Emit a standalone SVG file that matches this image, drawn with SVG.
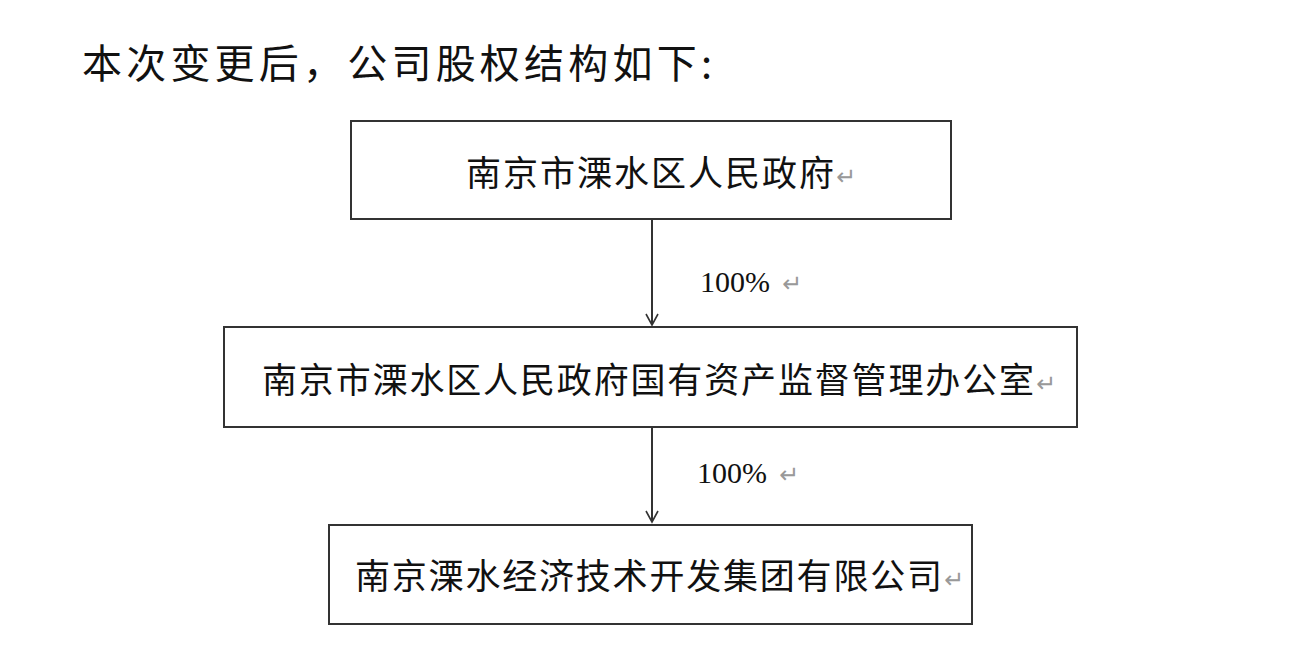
<svg xmlns="http://www.w3.org/2000/svg" width="1315" height="671" viewBox="0 0 1315 671">
<defs>
<marker id="ah" markerWidth="14" markerHeight="14" refX="12" refY="7" orient="auto" markerUnits="userSpaceOnUse">
<path d="M1,1 L12,7 L1,13" fill="none" stroke="#333" stroke-width="1.6"/>
</marker>
<style>
.box{fill:#fff;stroke:#333;stroke-width:2}
.t{font-family:"Noto Sans CJK SC",sans-serif;font-size:35px;fill:#111}
.ret{font-family:"DejaVu Sans",sans-serif;font-size:24px;fill:#999}
.pct{font-family:"Liberation Serif",serif;font-size:30px;fill:#111}
</style>
</defs>
<rect width="1315" height="671" fill="#fff"/>
<text x="82" y="78" font-family="Noto Sans CJK SC,sans-serif" font-size="40" fill="#111" textLength="630" lengthAdjust="spacing">本次变更后，公司股权结构如下:</text>
<g id="n1"><rect class="box" x="351" y="121" width="600" height="98"/>
<text class="t" x="466" y="186" textLength="368" lengthAdjust="spacing">南京市溧水区人民政府</text><text class="ret" x="836" y="185">↵</text></g>
<g id="n2"><rect class="box" x="224" y="327" width="853" height="100"/>
<text class="t" x="262" y="393" textLength="772" lengthAdjust="spacing">南京市溧水区人民政府国有资产监督管理办公室</text><text class="ret" x="1036" y="392">↵</text></g>
<g id="n3"><rect class="box" x="329" y="525" width="643" height="99"/>
<text class="t" x="355" y="589" textLength="587" lengthAdjust="spacing">南京溧水经济技术开发集团有限公司</text><text class="ret" x="944" y="588">↵</text></g>
<g id="connectors" stroke="#333" stroke-width="2" fill="none">
<line x1="652" y1="219" x2="652" y2="325" marker-end="url(#ah)"/>
<line x1="652" y1="427" x2="652" y2="522" marker-end="url(#ah)"/>
</g>
<g id="labels">
<text class="pct" x="700" y="292">100%</text><text class="ret" x="782" y="292">↵</text>
<text class="pct" x="697" y="483">100%</text><text class="ret" x="779" y="483">↵</text>
</g>
</svg>
